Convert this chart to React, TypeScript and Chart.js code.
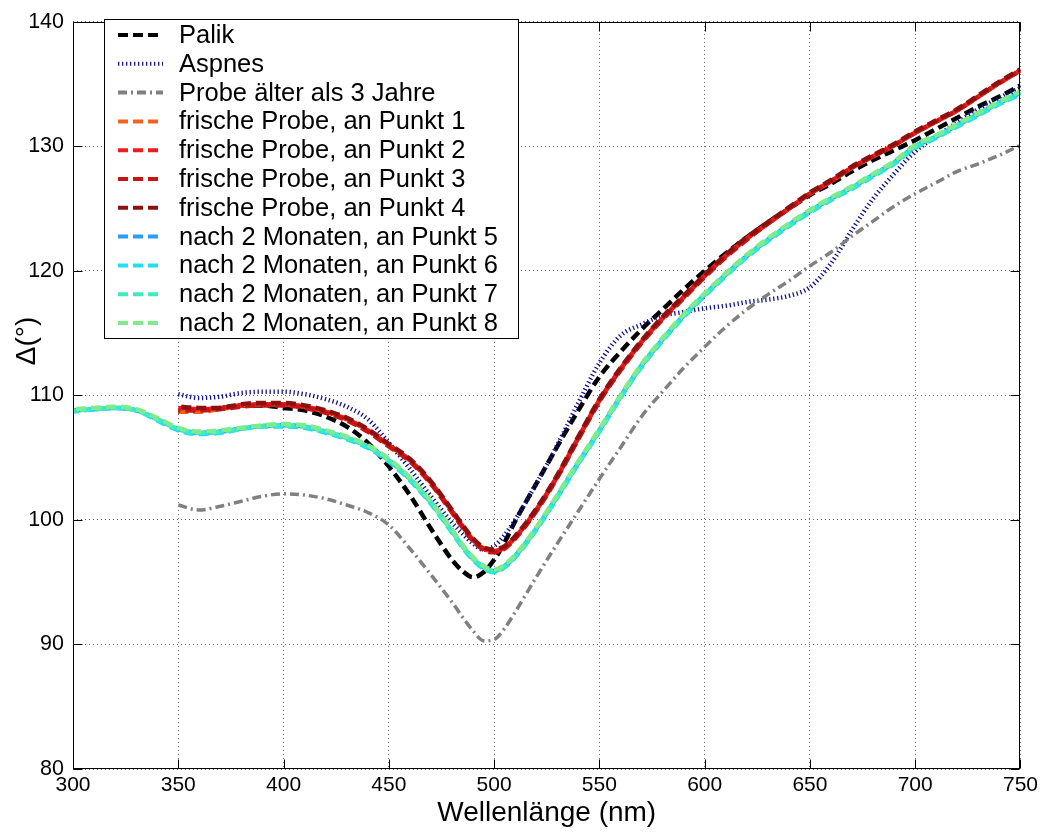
import React, { useEffect, useRef } from 'react';
import { Chart, registerables } from 'chart.js';

Chart.register(...registerables);

const FONT = '"Liberation Sans", Arial, Helvetica, sans-serif';

// Wavelengths (nm)
const wl300 = [300, 310, 320, 330, 340, 350, 360, 370, 380, 390, 400, 410, 420, 430, 440, 450, 460, 470, 480, 485, 490, 495, 500, 505, 510, 520, 530, 540, 550, 560, 570, 580, 590, 600, 610, 620, 630, 640, 650, 660, 670, 680, 690, 700, 710, 720, 730, 740, 750];
const wl350 = [350, 360, 370, 380, 390, 400, 410, 420, 430, 440, 450, 460, 470, 480, 485, 490, 495, 500, 505, 510, 520, 530, 540, 550, 560, 570, 580, 590, 600, 610, 620, 630, 640, 650, 660, 670, 680, 690, 700, 710, 720, 730, 740, 750];

// Delta values (degrees)
const palik = [108.7, 108.8, 109.0, 109.2, 109.2, 109.0, 108.8, 108.3, 107.5, 106.2, 104.3, 102.0, 99.3, 96.8, 95.9, 95.4, 95.8, 96.8, 98.2, 99.9, 102.9, 105.9, 108.8, 111.5, 113.5, 115.3, 116.9, 118.5, 120.0, 121.4, 122.7, 123.9, 125.0, 126.1, 127.0, 128.0, 128.9, 129.7, 130.5, 131.4, 132.3, 133.2, 134.0, 134.9];
const aspnes = [110.1, 109.8, 109.9, 110.2, 110.3, 110.3, 110.1, 109.7, 109.1, 108.1, 106.2, 104.1, 101.9, 99.8, 98.9, 98.1, 97.6, 97.9, 98.8, 100.0, 102.9, 106.0, 109.4, 112.6, 114.8, 115.7, 116.4, 116.7, 117.0, 117.2, 117.5, 117.7, 118.0, 118.7, 120.6, 123.3, 125.8, 127.8, 129.6, 130.8, 131.9, 133.0, 133.9, 134.7];
const probeAelter = [101.2, 100.8, 101.1, 101.5, 101.9, 102.1, 102.0, 101.7, 101.2, 100.6, 99.6, 97.7, 95.6, 93.4, 92.2, 91.1, 90.3, 90.4, 91.3, 92.6, 95.4, 98.1, 100.7, 103.3, 105.8, 108.3, 110.3, 112.2, 113.9, 115.5, 116.9, 118.1, 119.2, 120.4, 121.5, 122.8, 124.0, 125.2, 126.2, 127.1, 128.0, 128.6, 129.3, 130.1];
const frischeP1 = [108.7, 108.7, 108.9, 109.2, 109.3, 109.3, 109.1, 108.7, 108.1, 107.2, 106.0, 104.8, 103.0, 100.7, 99.5, 98.4, 97.7, 97.5, 97.8, 98.6, 100.8, 103.5, 106.6, 109.6, 112.1, 114.3, 116.2, 117.9, 119.6, 121.2, 122.6, 123.8, 125.0, 126.2, 127.2, 128.3, 129.2, 130.1, 131.1, 132.0, 132.9, 134.0, 135.1, 136.1];
const frischeP2 = [109.0, 108.9, 109.0, 109.2, 109.3, 109.3, 109.1, 108.7, 108.1, 107.2, 106.0, 104.8, 103.0, 100.7, 99.5, 98.4, 97.7, 97.5, 97.8, 98.6, 100.8, 103.5, 106.6, 109.6, 112.1, 114.3, 116.2, 117.9, 119.6, 121.2, 122.6, 123.8, 125.0, 126.2, 127.2, 128.3, 129.2, 130.1, 131.1, 132.0, 132.9, 134.0, 135.1, 136.1];
const frischeP3 = [108.8, 108.8, 108.9, 109.1, 109.2, 109.2, 109.0, 108.6, 108.0, 107.1, 105.9, 104.7, 102.9, 100.6, 99.4, 98.3, 97.6, 97.4, 97.7, 98.5, 100.7, 103.4, 106.5, 109.5, 112.0, 114.2, 116.1, 117.8, 119.5, 121.1, 122.5, 123.8, 125.0, 126.2, 127.2, 128.3, 129.2, 130.1, 131.1, 132.0, 132.9, 134.0, 135.1, 136.1];
const frischeP4 = [109.1, 109.0, 109.0, 109.3, 109.4, 109.4, 109.2, 108.8, 108.2, 107.3, 106.1, 104.9, 103.1, 100.8, 99.6, 98.5, 97.8, 97.6, 97.9, 98.7, 100.9, 103.6, 106.7, 109.7, 112.2, 114.4, 116.3, 118.0, 119.7, 121.3, 122.7, 123.9, 125.1, 126.3, 127.3, 128.4, 129.3, 130.2, 131.2, 132.1, 133.0, 134.1, 135.2, 136.2];
const nachP5 = [108.8, 108.9, 109.0, 108.8, 108.1, 107.3, 107.0, 107.1, 107.35, 107.55, 107.6, 107.5, 107.1, 106.6, 105.9, 104.8, 103.3, 101.4, 99.1, 97.9, 96.9, 96.2, 95.9, 96.3, 97.1, 99.3, 101.9, 104.6, 107.2, 109.9, 112.4, 114.5, 116.4, 118.1, 119.7, 121.2, 122.5, 123.7, 124.8, 125.8, 126.7, 127.7, 128.7, 130.0, 130.8, 131.7, 132.6, 133.5, 134.3];
const nachP6 = [108.7, 108.9, 109.0, 108.8, 108.0, 107.2, 106.9, 107.0, 107.3, 107.5, 107.5, 107.4, 107.0, 106.5, 105.8, 104.7, 103.2, 101.3, 99.0, 97.8, 96.8, 96.1, 95.8, 96.2, 97.0, 99.2, 101.8, 104.5, 107.1, 109.8, 112.3, 114.4, 116.3, 118.0, 119.6, 121.1, 122.4, 123.6, 124.7, 125.7, 126.6, 127.6, 128.6, 129.9, 130.7, 131.6, 132.5, 133.4, 134.2];
const nachP7 = [108.8, 108.9, 109.0, 108.8, 108.1, 107.3, 107.0, 107.1, 107.35, 107.55, 107.6, 107.5, 107.1, 106.6, 105.9, 104.8, 103.3, 101.4, 99.1, 97.9, 96.9, 96.2, 95.9, 96.3, 97.1, 99.3, 101.9, 104.6, 107.2, 109.9, 112.4, 114.5, 116.4, 118.1, 119.7, 121.2, 122.5, 123.7, 124.8, 125.8, 126.7, 127.7, 128.7, 130.0, 130.8, 131.7, 132.6, 133.5, 134.3];
const nachP8 = [108.9, 109.0, 109.1, 108.9, 108.2, 107.4, 107.1, 107.2, 107.4, 107.6, 107.7, 107.6, 107.2, 106.7, 106.0, 104.9, 103.4, 101.5, 99.2, 98.0, 97.0, 96.3, 96.0, 96.4, 97.2, 99.4, 102.0, 104.7, 107.3, 110.0, 112.5, 114.6, 116.5, 118.2, 119.8, 121.3, 122.6, 123.8, 124.9, 125.9, 126.8, 127.8, 128.8, 130.1, 130.9, 131.8, 132.7, 133.6, 134.4];

const legendLabels = [
  'Palik',
  'Aspnes',
  'Probe älter als 3 Jahre',
  'frische Probe, an Punkt 1',
  'frische Probe, an Punkt 2',
  'frische Probe, an Punkt 3',
  'frische Probe, an Punkt 4',
  'nach 2 Monaten, an Punkt 5',
  'nach 2 Monaten, an Punkt 6',
  'nach 2 Monaten, an Punkt 7',
  'nach 2 Monaten, an Punkt 8',
];

const xTickValues = [300, 350, 400, 450, 500, 550, 600, 650, 700, 750];
const yTickValues = [80, 90, 100, 110, 120, 130, 140];

const xAxisTitle = 'Wellenlänge (nm)';
const yAxisTitle = 'Δ(°)';

function pts(xs: number[], ys: number[]) {
  return xs.map((x, i) => ({ x, y: ys[i] }));
}

const seriesData = [
  { xs: wl350, ys: palik },
  { xs: wl350, ys: aspnes },
  { xs: wl350, ys: probeAelter },
  { xs: wl350, ys: frischeP1 },
  { xs: wl350, ys: frischeP2 },
  { xs: wl350, ys: frischeP3 },
  { xs: wl350, ys: frischeP4 },
  { xs: wl300, ys: nachP5 },
  { xs: wl300, ys: nachP6 },
  { xs: wl300, ys: nachP7 },
  { xs: wl300, ys: nachP8 },
];

const seriesStyles = [
  { color: '#000000', width: 4.5, dash: [10, 5], offset: 0, legendWidth: 4 },
  { color: '#14148c', width: 4.5, dash: [1.3, 2.7], offset: 0, legendWidth: 4 },
  { color: '#808080', width: 3.5, dash: [9, 4, 2, 4], offset: 0, legendWidth: 4 },
  { color: '#f2641e', width: 4.5, dash: [10, 5], offset: 0, legendWidth: 4 },
  { color: '#ee1c1c', width: 4.5, dash: [10, 5], offset: 4, legendWidth: 4 },
  { color: '#c81414', width: 4.5, dash: [10, 5], offset: 8, legendWidth: 4 },
  { color: '#8c1010', width: 4.5, dash: [10, 5], offset: 12, legendWidth: 4 },
  { color: '#2a9df4', width: 4.5, dash: [10, 5], offset: 0, legendWidth: 4 },
  { color: '#1ee0f0', width: 4.5, dash: [10, 5], offset: 4, legendWidth: 4 },
  { color: '#3cecc0', width: 4.5, dash: [10, 5], offset: 8, legendWidth: 4 },
  { color: '#7eec8e', width: 4.5, dash: [10, 5], offset: 12, legendWidth: 4 },
];

const framePlugin = {
  id: 'frameAndLegend',
  afterDraw(chart: any) {
    const { ctx, chartArea: a, scales } = chart;
    const L = Math.round(a.left) + 0.5;
    const R = Math.round(a.right) - 0.5;
    const T = Math.round(a.top) + 0.5;
    const B = Math.round(a.bottom) - 0.5;
    ctx.save();
    ctx.setLineDash([]);
    ctx.strokeStyle = '#000';
    ctx.lineWidth = 1;
    // inner tick marks
    const tl = 9;
    ctx.beginPath();
    scales.x.ticks.forEach((t: any) => {
      const px = Math.round(scales.x.getPixelForValue(t.value)) + 0.5;
      ctx.moveTo(px, B); ctx.lineTo(px, B - tl);
      ctx.moveTo(px, T); ctx.lineTo(px, T + tl);
    });
    scales.y.ticks.forEach((t: any) => {
      const py = Math.round(scales.y.getPixelForValue(t.value)) + 0.5;
      ctx.moveTo(L, py); ctx.lineTo(L + tl, py);
      ctx.moveTo(R, py); ctx.lineTo(R - tl, py);
    });
    ctx.stroke();
    ctx.strokeRect(L, T, R - L, B - T);

    // legend box
    const bx = 104, by = 19, bw = 414, bh = 319;
    ctx.fillStyle = '#fff';
    ctx.fillRect(bx, by, bw, bh);
    ctx.strokeStyle = '#000';
    ctx.strokeRect(bx + 0.5, by + 0.5, bw, bh);
    ctx.font = `25.5px ${FONT}`;
    ctx.textBaseline = 'middle';
    ctx.textAlign = 'left';
    chart.data.datasets.forEach((ds: any, i: number) => {
      const y = 35 + i * 28.8;
      const st = seriesStyles[i];
      ctx.save();
      ctx.strokeStyle = ds.borderColor;
      ctx.lineWidth = st.legendWidth;
      ctx.setLineDash(ds.borderDash || []);
      ctx.lineDashOffset = 0;
      ctx.beginPath();
      ctx.moveTo(118, y);
      ctx.lineTo(163, y);
      ctx.stroke();
      ctx.restore();
      ctx.fillStyle = '#000';
      ctx.fillText(ds.label, 179, y + 1);
    });

    // y axis title
    ctx.save();
    ctx.translate(27, 341);
    ctx.rotate(-Math.PI / 2);
    ctx.font = `28px ${FONT}`;
    ctx.textAlign = 'center';
    ctx.textBaseline = 'middle';
    ctx.fillStyle = '#000';
    ctx.fillText(yAxisTitle, 0, 0);
    ctx.restore();
    ctx.restore();
  },
};

export default function App() {
  const canvasRef = useRef<HTMLCanvasElement | null>(null);

  useEffect(() => {
    if (!canvasRef.current) return;
    const datasets = seriesData.map((s, i) => ({
      label: legendLabels[i],
      data: pts(s.xs, s.ys),
      borderColor: seriesStyles[i].color,
      backgroundColor: seriesStyles[i].color,
      borderWidth: seriesStyles[i].width,
      borderDash: seriesStyles[i].dash,
      borderDashOffset: seriesStyles[i].offset,
      pointRadius: 0,
      pointHoverRadius: 0,
      fill: false,
      cubicInterpolationMode: 'monotone' as const,
      order: seriesData.length - i,
    }));

    const chart = new Chart(canvasRef.current, {
      type: 'line',
      data: { datasets },
      options: {
        animation: false,
        responsive: true,
        maintainAspectRatio: false,
        devicePixelRatio: 1,
        layout: { padding: { left: 0, right: 21, top: 21, bottom: 0 } },
        plugins: {
          legend: { display: false },
          tooltip: { enabled: false },
          title: { display: false },
        },
        scales: {
          x: {
            type: 'linear',
            min: xTickValues[0],
            max: xTickValues[xTickValues.length - 1],
            afterBuildTicks: (scale: any) => {
              scale.ticks = xTickValues.map((v) => ({ value: v }));
            },
            afterFit: (scale: any) => {
              scale.height = 63;
            },
            grid: { color: 'rgba(0,0,0,0.6)', lineWidth: 1, drawTicks: false },
            border: { display: false, dash: [1, 3] },
            ticks: {
              font: { size: 21, family: FONT },
              color: '#000',
              padding: 4,
              maxRotation: 0,
              autoSkip: false,
            },
            title: {
              display: true,
              text: xAxisTitle,
              font: { size: 28, family: FONT },
              color: '#000',
              padding: { top: 0, bottom: 2 },
            },
          },
          y: {
            type: 'linear',
            min: yTickValues[0],
            max: yTickValues[yTickValues.length - 1],
            afterBuildTicks: (scale: any) => {
              scale.ticks = yTickValues.map((v) => ({ value: v }));
            },
            afterFit: (scale: any) => {
              scale.width = 73;
            },
            grid: { color: 'rgba(0,0,0,0.6)', lineWidth: 1, drawTicks: false },
            border: { display: false, dash: [1, 3] },
            ticks: {
              font: { size: 21.5, family: FONT },
              color: '#000',
              padding: 9,
            },
          },
        },
      },
      plugins: [framePlugin],
    });
    return () => chart.destroy();
  }, []);

  return (
    <div style={{ position: 'fixed', left: 0, top: 0, width: 1042, height: 832, background: '#fff' }}>
      <canvas ref={canvasRef} />
    </div>
  );
}
